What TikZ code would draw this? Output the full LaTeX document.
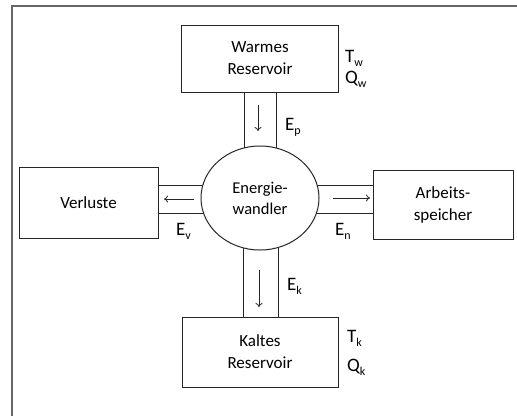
\documentclass[tikz,border=0pt]{standalone}
\usepackage{fontspec}
\setmainfont{Carlito}
\usetikzlibrary{shapes.geometric,arrows.meta}
\newcommand\sublab[2]{#1\raisebox{-0.45ex}{\fontsize{12}{12}\selectfont #2}}
\begin{document}
\begin{tikzpicture}[x=1pt,y=-1pt,
  box/.style={draw=black!85, line width=1pt, rectangle, align=center,
    font=\fontsize{17}{22}\selectfont, inner sep=0pt},
  conv/.style={draw=black!85, line width=1pt, ellipse, fill=white, align=center,
    font=\fontsize{16.5}{21}\selectfont, inner sep=0pt,
    minimum width=118pt, minimum height=104pt},
  chan/.style={draw=black!85, line width=1pt},
  flow/.style={draw=black!85, line width=0.8pt, -{To[length=4pt,width=7pt]}},
  lab/.style={anchor=base west, inner sep=0pt, font=\fontsize{19}{19}\selectfont},
  frame/.style={draw=black!60, line width=1.2pt}
]
\useasboundingbox (0,0) rectangle (517,416);
\fill[white] (0,0) rectangle (517,416);
% outer frame (left and top edges visible)
\coordinate (f1) at (12,416);
\coordinate (f2) at (12,6);
\coordinate (f3) at (517,6);
\draw[frame] (f1) -- (f2) -- (f3);

% boxes
\node[box, minimum width=157pt, minimum height=67pt] (warm) at (260,58.5) {Warmes\\Reservoir};
\node[box, minimum width=156pt, minimum height=70pt] (cold) at (260,352) {Kaltes\\Reservoir};
\node[box, minimum width=139pt, minimum height=71pt] (loss) at (88.5,202.5) {Verluste};
\node[box, minimum width=140pt, minimum height=69pt] (work) at (443,204.5) {Arbeits-\\speicher};

% channel coordinates
\coordinate (cc) at (260,198);
\coordinate (t1a) at (244,92);  \coordinate (t1b) at (244,198);
\coordinate (t2a) at (276,92);  \coordinate (t2b) at (276,198);
\coordinate (b1a) at (243,317); \coordinate (b1b) at (243,198);
\coordinate (b2a) at (278,317); \coordinate (b2b) at (278,198);
\coordinate (l1a) at (158,185); \coordinate (l1b) at (260,185);
\coordinate (l2a) at (158,213); \coordinate (l2b) at (260,213);
\coordinate (r1a) at (373,185); \coordinate (r1b) at (260,185);
\coordinate (r2a) at (373,213); \coordinate (r2b) at (260,213);
\draw[chan] (t1a) -- (t1b) (t2a) -- (t2b)
            (b1a) -- (b1b) (b2a) -- (b2b)
            (l1a) -- (l1b) (l2a) -- (l2b)
            (r1a) -- (r1b) (r2a) -- (r2b);

% converter
\node[conv] (conv) at (cc) {Energie-\\wandler};

% flow arrows
\coordinate (ap1) at (258,105); \coordinate (ap2) at (258,131);
\coordinate (ak1) at (259,270); \coordinate (ak2) at (259,307);
\coordinate (av1) at (194,199); \coordinate (av2) at (164,199);
\coordinate (an1) at (333,198); \coordinate (an2) at (370,198);
\draw[flow] (ap1) -- (ap2);
\draw[flow] (ak1) -- (ak2);
\draw[flow] (av1) -- (av2);
\draw[flow] (an1) -- (an2);

% labels
\node[lab] (Ep) at (285,130) {\sublab{E}{p}};
\node[lab] (Tw) at (345,62) {\sublab{T}{w}};
\node[lab] (Qw) at (345,83) {\sublab{Q}{w}};
\node[lab] (Ev) at (176,235) {\sublab{E}{v}};
\node[lab] (En) at (335,235) {\sublab{E}{n}};
\node[lab] (Ek) at (287,290) {\sublab{E}{k}};
\node[lab] (Tk) at (347,342) {\sublab{T}{k}};
\node[lab] (Qk) at (347,371) {\sublab{Q}{k}};
\end{tikzpicture}
\end{document}
